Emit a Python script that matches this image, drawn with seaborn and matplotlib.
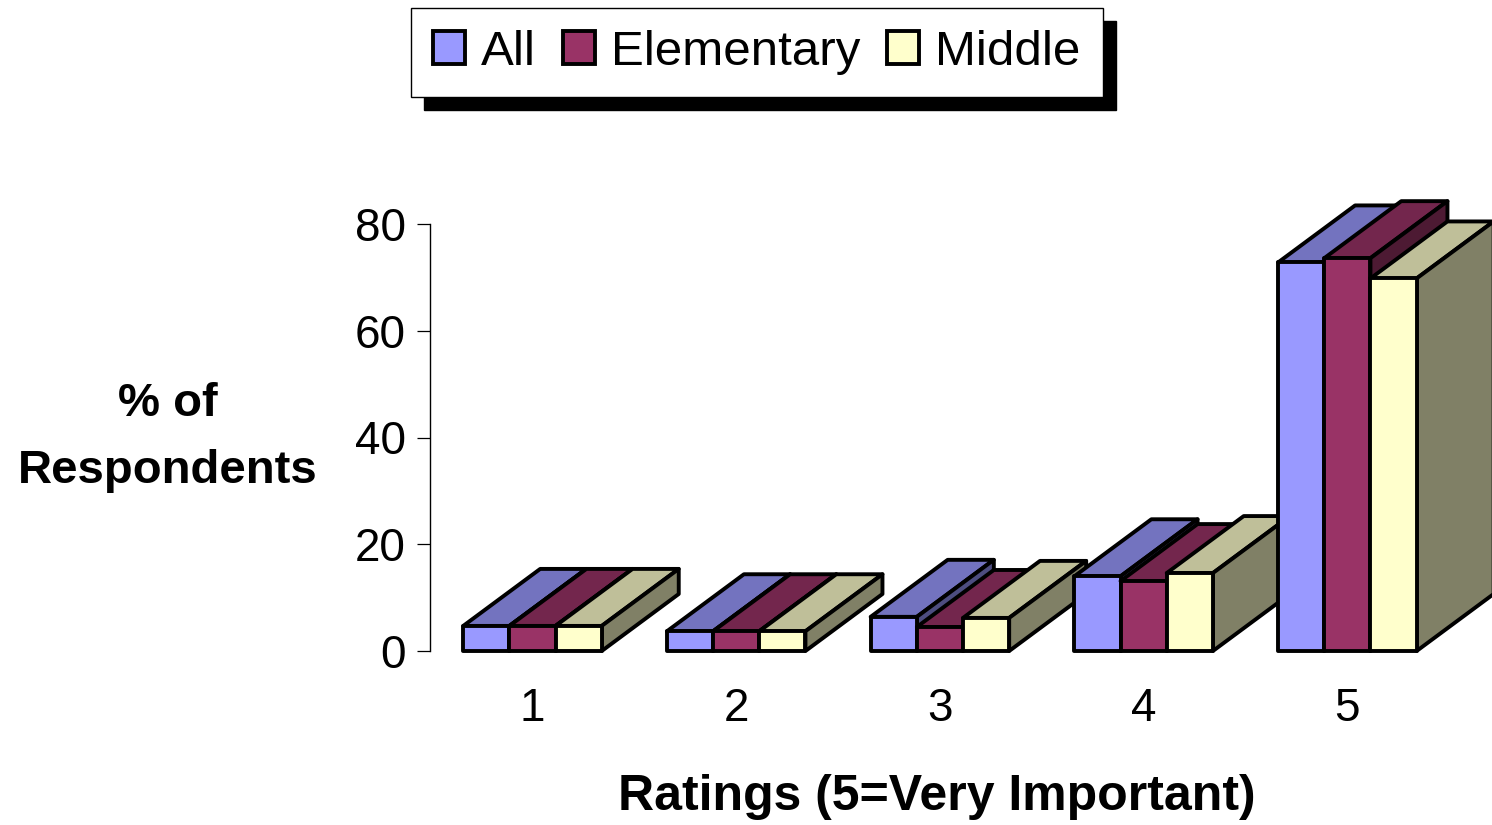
import matplotlib
matplotlib.use("Agg")
import matplotlib.pyplot as plt
import matplotlib.colors as mcolors
from matplotlib.patches import Polygon, Patch
import numpy as np
import pandas as pd
import seaborn as sns

# Survey data: share of respondents giving each importance rating
ratings = ["1", "2", "3", "4", "5"]
groups = ["All", "Elementary", "Middle"]
all_pct = [4.7, 3.7, 6.4, 14.0, 72.8]
elementary_pct = [4.7, 3.7, 4.5, 13.1, 73.6]
middle_pct = [4.7, 3.7, 6.2, 14.6, 69.8]
y_ticks = [0, 20, 40, 60, 80]

group_colors = ["#9999FF", "#993366", "#FFFFCC"]

df = pd.DataFrame({
    "rating": ratings * 3,
    "pct": all_pct + elementary_pct + middle_pct,
    "level": [g for g in groups for _ in ratings],
})

sns.set_theme(style="white")
plt.rcParams["font.family"] = ["Liberation Sans", "DejaVu Sans"]

W, H = 1492, 825
LW = 2.8
fig = plt.figure(figsize=(W / 100, H / 100), dpi=100)
ax = fig.add_axes([430 / W, 174 / H, 1062 / W, 427 / H])

sns.barplot(data=df, x="rating", y="pct", hue="level", order=ratings,
            hue_order=groups, palette=group_colors, saturation=1,
            width=0.68, edgecolor="black", linewidth=LW, ax=ax, legend=False)

ax.set_xlim(-0.503, 4.71)
ax.set_ylim(0, 80)

# Oblique depth of the pseudo-3D boxes, in data units
DX = 0.378
DY = 10.68

bars = sorted(ax.patches, key=lambda p: p.get_x())
for i, p in enumerate(bars):
    x, w, h = p.get_x(), p.get_width(), p.get_height()
    face = np.array(mcolors.to_rgb(p.get_facecolor()))
    base = 2 + i * 0.1
    top = Polygon([(x, h), (x + w, h), (x + w + DX, h + DY), (x + DX, h + DY)],
                  closed=True, facecolor=face * 0.75, edgecolor="black",
                  linewidth=LW, joinstyle="round", clip_on=False, zorder=base)
    side = Polygon([(x + w, 0), (x + w + DX, DY), (x + w + DX, h + DY), (x + w, h)],
                   closed=True, facecolor=face * 0.5, edgecolor="black",
                   linewidth=LW, joinstyle="round", clip_on=False, zorder=base + 0.01)
    ax.add_patch(top)
    ax.add_patch(side)
    p.set_zorder(base + 0.02)
    p.set_clip_on(False)
    p.set_joinstyle("round")

for s in ["top", "right", "bottom"]:
    ax.spines[s].set_visible(False)
ax.spines["left"].set_color("black")
ax.spines["left"].set_linewidth(1.0)

ax.set_yticks(y_ticks)
ax.set_yticklabels([str(t) for t in y_ticks])
ax.tick_params(axis="y", left=True, length=9.4, width=0.9, color="black",
               pad=8, labelsize=33, labelcolor="black")
ax.tick_params(axis="x", bottom=False, length=0, pad=26, labelsize=33,
               labelcolor="black")

ax.set_xlabel("Ratings (5=Very Important)", fontsize=36, fontweight="bold",
              color="black")
ax.xaxis.set_label_coords(0.4774, -0.342)
ax.xaxis.label.set_va("center")

ax.set_ylabel("% of\nRespondents", fontsize=34, fontweight="bold",
              rotation=0, ha="center", va="center", color="black",
              linespacing=1.68)
ax.yaxis.set_label_coords(-0.2467, 0.50)

handles = [Patch(facecolor=c, edgecolor="black", linewidth=LW) for c in group_colors]
leg = fig.legend(handles, groups, loc="center",
                 bbox_to_anchor=(757 / W, 1 - 52.5 / H), ncol=3,
                 fontsize=35.5, frameon=True, fancybox=False,
                 handlelength=0.64, handleheight=0.64, handletextpad=0.33,
                 columnspacing=0.55, borderpad=0.45,
                 shadow={"facecolor": "black", "edgecolor": "black",
                         "alpha": 1, "ox": 9.5, "oy": -9.5})
leg.get_frame().set_edgecolor("black")
leg.get_frame().set_linewidth(1.0)
for t in leg.get_texts():
    t.set_color("black")

fig.savefig("out.png", dpi=100, facecolor="white")
